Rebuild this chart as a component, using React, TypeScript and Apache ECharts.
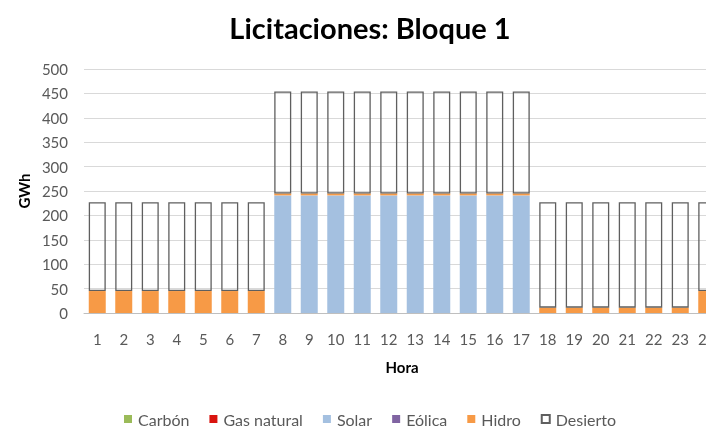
import React, { useEffect, useRef } from "react";
import * as echarts from "echarts";

const hours = ["1","2","3","4","5","6","7","8","9","10","11","12","13","14","15","16","17","18","19","20","21","22","23","24"];
const carbon = [0,0,0,0,0,0,0,0,0,0,0,0,0,0,0,0,0,0,0,0,0,0,0,0];
const gasNatural = [0,0,0,0,0,0,0,0,0,0,0,0,0,0,0,0,0,0,0,0,0,0,0,0];
const solar = [0,0,0,0,0,0,0,241,241,241,241,241,241,241,241,241,241,0,0,0,0,0,0,0];
const eolica = [0,0,0,0,0,0,0,0,0,0,0,0,0,0,0,0,0,0,0,0,0,0,0,0];
const hidro = [45,45,45,45,45,45,45,4,4,4,4,4,4,4,4,4,4,11,11,11,11,11,11,45];
const desierto = [182,182,182,182,182,182,182,209,209,209,209,209,209,209,209,209,209,216,216,216,216,216,216,182];

const FONT = "Lato, 'Noto Sans', sans-serif";

export default function App() {
  const ref = useRef<HTMLDivElement>(null);
  useEffect(() => {
    if (!ref.current) return;
    const chart = echarts.init(ref.current, null, { renderer: "svg" });
    const filled = (name: string, data: number[], color: string) => ({
      name,
      type: "bar",
      stack: "total",
      data,
      barWidth: 17,
      itemStyle: { color },
    });
    chart.setOption({
      animation: false,
      textStyle: { fontFamily: FONT },
      title: {
        text: "Licitaciones: Bloque 1",
        left: 365,
        top: 8,
        textAlign: "center",
        textStyle: { fontFamily: FONT, fontSize: 29, fontWeight: "bold", color: "#000" },
      },
      legend: {
        left: 124,
        top: 411,
        padding: 0,
        itemWidth: 8,
        itemHeight: 8,
        itemGap: 20,
        icon: "rect",
        textStyle: { fontFamily: FONT, fontSize: 16, color: "#595959", padding: [0, 0, 0, 1] },
        data: ["Carbón", "Gas natural", "Solar", "Eólica", "Hidro", "Desierto"],
      },
      grid: { left: 84, right: 0, top: 69, bottom: 114 },
      xAxis: {
        type: "category",
        data: hours,
        name: "Hora",
        nameLocation: "middle",
        nameGap: 46,
        nameTextStyle: { fontFamily: FONT, fontSize: 15, fontWeight: "bold", color: "#000" },
        axisLine: { lineStyle: { color: "#bfbfbf" } },
        axisTick: { show: false },
        axisLabel: { fontFamily: FONT, fontSize: 15, color: "#595959", margin: 18 },
      },
      yAxis: {
        type: "value",
        min: 0,
        max: 500,
        interval: 50,
        name: "GWh",
        nameLocation: "middle",
        nameGap: 53,
        nameRotate: 90,
        nameTextStyle: { fontFamily: FONT, fontSize: 15, fontWeight: "bold", color: "#000" },
        axisLine: { show: false },
        axisTick: { show: false },
        axisLabel: { fontFamily: FONT, fontSize: 15, color: "#595959", margin: 16 },
        splitLine: { lineStyle: { color: "#d9d9d9", width: 1 } },
      },
      series: [
        filled("Carbón", carbon, "#9bbb59"),
        filled("Gas natural", gasNatural, "#d9140f"),
        filled("Solar", solar, "#a4c0e0"),
        filled("Eólica", eolica, "#8064a2"),
        filled("Hidro", hidro, "#f79a46"),
        {
          name: "Desierto",
          type: "bar",
          stack: "total",
          data: desierto,
          barWidth: 17,
          itemStyle: { color: "rgba(255,255,255,0)", borderColor: "#5f5f5f", borderWidth: 1.3 },
        },
      ],
    });
    return () => chart.dispose();
  }, []);
  return (
    <div style={{ position: "fixed", left: 0, top: 0, width: 706, height: 427, overflow: "hidden" }}>
      <div ref={ref} style={{ width: 720, height: 427 }} />
    </div>
  );
}
